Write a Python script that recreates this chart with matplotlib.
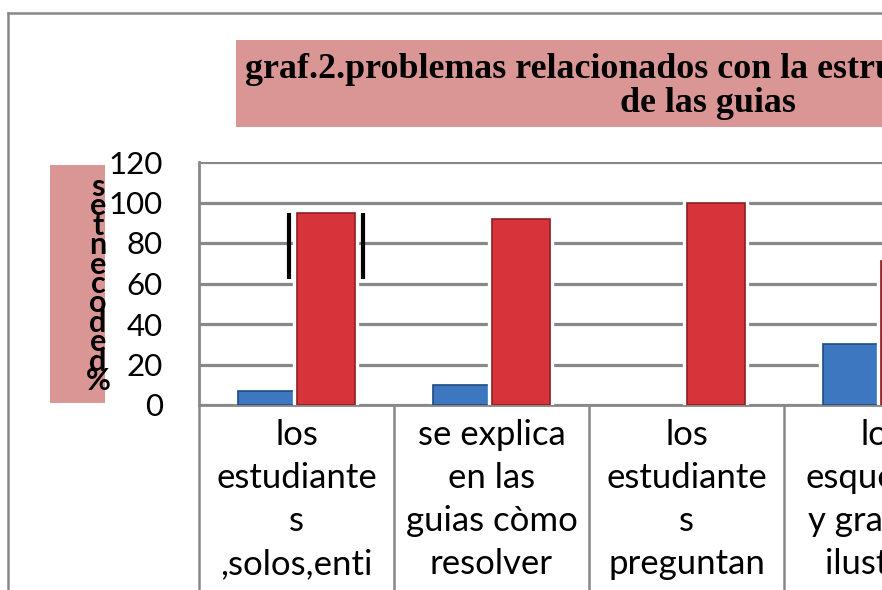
import matplotlib
matplotlib.use("Agg")
import matplotlib.pyplot as plt
from matplotlib.patches import Rectangle
from matplotlib.lines import Line2D

# ---- data ----
categories = [
    "los\nestudiante\ns\n,solos,enti",
    "se explica\nen las\nguias còmo\nresolver",
    "los\nestudiante\ns\npreguntan",
    "los\nesquemas\ny graficos\nilustran",
]
serie_azul = [7, 10, 0, 30]
serie_roja = [95, 92, 100, 71]
yticks = [0, 20, 40, 60, 80, 100, 120]
title_line1 = "graf.2.problemas relacionados con la estructura"
title_line2 = "de las guias"
ylabel = "% de docentes"

W, H = 882, 590
fig = plt.figure(figsize=(W / 100, H / 100), dpi=100)
fig.patch.set_facecolor("white")

def fx(px):
    return px / W

def fy(py):
    return 1 - py / H

GRAY = "#888888"
PINK = "#d99694"
RED = "#d6343a"
RED_EDGE = "#8e1f22"
BLUE = "#3d77c0"
BLUE_EDGE = "#1f4a80"

# outer chart frame (extends beyond the picture)
fig.add_artist(Line2D([fx(8), fx(8)], [fy(13), fy(600)], color=GRAY, lw=1.8))
fig.add_artist(Line2D([fx(8), fx(900)], [fy(13), fy(13)], color=GRAY, lw=1.8))

# title box
fig.add_artist(Rectangle((fx(236), fy(127)), fx(700), (127 - 40) / H,
                         facecolor=PINK, edgecolor="none", zorder=1))
fig.text(fx(245), fy(69), title_line1, ha="left", va="center",
         fontsize=25.8, fontweight="bold", family="Liberation Serif", zorder=2)
fig.text(fx(708), fy(104), title_line2, ha="center", va="center",
         fontsize=25.8, fontweight="bold", family="Liberation Serif", zorder=2)

# y label box
fig.add_artist(Rectangle((fx(50), fy(403)), fx(55), (403 - 165) / H,
                         facecolor=PINK, edgecolor="none", zorder=1))
stack = "\n".join(reversed(ylabel.replace(" ", "")))
fig.text(fx(98), fy(284), stack, ha="center", va="center", fontsize=22,
         fontweight="bold", family="Lato", linespacing=0.63, zorder=2)

# axes
ax = fig.add_axes([fx(199), (H - 405) / H, 780 / W, (405 - 162) / H])
ax.set_xlim(-0.5, 3.5)
ax.set_ylim(0, 120)
ax.set_yticks(yticks)
ax.set_yticklabels([str(v) for v in yticks])
ax.yaxis.grid(True, color=GRAY, lw=2.3)
ax.set_axisbelow(True)
for s in ["top", "right"]:
    ax.spines[s].set_visible(False)
ax.spines["left"].set_color(GRAY)
ax.spines["left"].set_linewidth(2)
ax.spines["bottom"].set_color(GRAY)
ax.spines["bottom"].set_linewidth(2)
ax.tick_params(axis="y", length=0, labelsize=22.5, pad=26)
for lab in ax.get_yticklabels():
    lab.set_family("Lato")

x = list(range(len(categories)))
bw = 0.3
xb = [i - 0.15 for i in x]
xr = [i + 0.15 for i in x]
lw_b = [1.2 if v > 0 else 0 for v in serie_azul]
lw_bh = [6 if v > 0 else 0 for v in serie_azul]
# halos
ax.bar(xb, serie_azul, width=bw, color="white", edgecolor="white", lw=lw_bh, zorder=2)
ax.bar(xb, serie_azul, width=bw, color=BLUE, edgecolor=BLUE_EDGE, lw=lw_b, zorder=3)
ax.bar(xr, serie_roja, width=bw, color="white", edgecolor="white", lw=6, zorder=4)
ax.bar(xr, serie_roja, width=bw, color=RED, edgecolor=RED_EDGE, lw=1.2, zorder=5)

# selection marks beside the first red bar
ax.vlines([xr[0] - 0.19, xr[0] + 0.19], 62, serie_roja[0], color="black", lw=3, zorder=6)

ax.set_xticks(x)
ax.set_xticklabels(categories)
ax.set_xticks([i - 0.5 for i in range(len(categories) + 1)], minor=True)
ax.tick_params(axis="x", which="major", length=0, labelsize=25, pad=10)
ax.tick_params(axis="x", which="minor", length=200, width=1.8, color=GRAY)
for lab in ax.get_xticklabels():
    lab.set_family("Lato")
    lab.set_linespacing(1.43)

fig.savefig("out.png", dpi=100)
